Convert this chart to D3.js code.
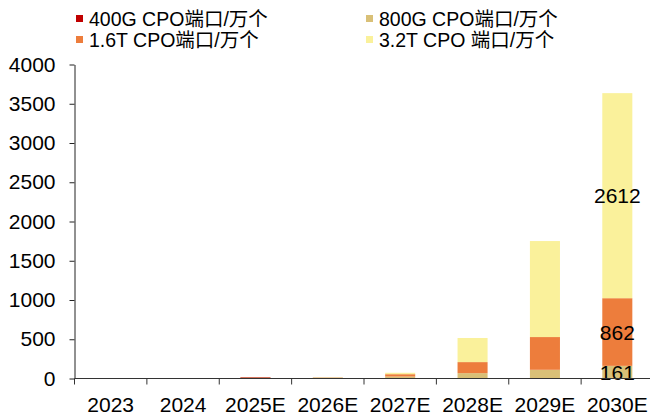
<!DOCTYPE html>
<html>
<head>
<meta charset="utf-8">
<script src="https://cdn.jsdelivr.net/npm/d3@7"></script>
<style>
  body { margin: 0; background: #fff; }
  svg { display: block; font-family: "Liberation Sans", Arial, "Noto Sans CJK SC", sans-serif; }
</style>
</head>
<body>
<div id="chart"></div>
<script>
// categories and series (万个)
const years = ["2023", "2024", "2025E", "2026E", "2027E", "2028E", "2029E", "2030E"];
const s400G = [1, 3, 15, 3, 0, 0, 0, 0];
const s800G = [0, 0, 4, 10, 25, 68, 111, 161];
const s1_6T = [0, 0, 0, 2, 30, 141, 417, 862];
const s3_2T = [0, 0, 0, 0, 18, 307, 1223, 2612];
const seriesNames = ["400G CPO端口/万个", "800G CPO端口/万个", "1.6T CPO端口/万个", "3.2T CPO 端口/万个"];
const yTicks = [0, 500, 1000, 1500, 2000, 2500, 3000, 3500, 4000];
const labelYears = ["2030E"];

const COLORS = ["#C00000", "#D9C077", "#ED7D3C", "#FAF19B"];

const width = 650, height = 417;
const margin = { top: 64.5, right: -3.5, bottom: 38.5, left: 74.5 };

const svg = d3.select("#chart").append("svg")
  .attr("width", width)
  .attr("height", height);

const x = d3.scaleBand()
  .domain(years)
  .range([margin.left, width - margin.right])
  .paddingInner(0.585)
  .paddingOuter(0.2925);

const y = d3.scaleLinear()
  .domain([0, 4000])
  .range([height - margin.bottom, margin.top]);

const keys = ["s400G", "s800G", "s1_6T", "s3_2T"];
const table = years.map((yr, i) => ({
  year: yr, s400G: s400G[i], s800G: s800G[i], s1_6T: s1_6T[i], s3_2T: s3_2T[i]
}));
const stacked = d3.stack().keys(keys)(table);

// bars
const barG = svg.append("g");
stacked.forEach((layer, k) => {
  barG.append("g")
    .attr("fill", COLORS[k])
    .selectAll("rect")
    .data(layer)
    .join("rect")
    .attr("x", d => x(d.data.year))
    .attr("width", x.bandwidth())
    .attr("y", d => y(d[1]))
    .attr("height", d => y(d[0]) - y(d[1]));
});

// value labels on the last year (skip the empty 400G)
const lblG = svg.append("g")
  .attr("font-size", 21)
  .attr("fill", "#000")
  .attr("text-anchor", "middle");
stacked.forEach((layer) => {
  layer.filter(d => labelYears.includes(d.data.year) && d[1] - d[0] > 0).forEach(d => {
    lblG.append("text")
      .attr("x", x(d.data.year) + x.bandwidth() / 2)
      .attr("y", (y(d[0]) + y(d[1])) / 2)
      .attr("dy", "0.36em")
      .text(d[1] - d[0]);
  });
});

// y axis
const yAxis = svg.append("g")
  .attr("transform", `translate(${margin.left},0)`)
  .call(d3.axisLeft(y).tickValues(yTicks).tickFormat(d3.format("d"))
    .tickSize(5).tickPadding(14).tickSizeOuter(0));
yAxis.select(".domain").attr("stroke", "#222");
yAxis.selectAll(".tick line").attr("stroke", "#222");
yAxis.selectAll("text").attr("font-size", 21).attr("fill", "#000")
  .attr("font-family", "'Liberation Sans', Arial, sans-serif");

// x axis with ticks at band boundaries
const xAxisG = svg.append("g")
  .attr("transform", `translate(0,${y(0)})`);
xAxisG.append("line")
  .attr("x1", margin.left).attr("x2", width)
  .attr("stroke", "#333");
const step = x.step();
xAxisG.selectAll("line.tk")
  .data(years)
  .join("line")
  .attr("class", "tk")
  .attr("x1", d => x(d) - step * x.paddingInner() / 2)
  .attr("x2", d => x(d) - step * x.paddingInner() / 2)
  .attr("y1", 0).attr("y2", 6)
  .attr("stroke", "#333");
xAxisG.selectAll("text")
  .data(years)
  .join("text")
  .attr("x", d => x(d) + x.bandwidth() / 2)
  .attr("y", 33)
  .attr("text-anchor", "middle")
  .attr("font-size", 21)
  .attr("fill", "#000")
  .text(d => d);

// legend
const legendPos = [
  { x: 76, y: 15 }, { x: 366, y: 15 },
  { x: 76, y: 36 }, { x: 366, y: 36 }
];
const legG = svg.append("g");
seriesNames.forEach((name, k) => {
  const p = legendPos[k];
  legG.append("rect")
    .attr("x", p.x).attr("y", p.y)
    .attr("width", 7).attr("height", 7)
    .attr("fill", COLORS[k]);
  legG.append("text")
    .attr("x", p.x + 13)
    .attr("y", p.y + 11)
    .attr("font-size", 19.5)
    .attr("fill", "#000")
    .text(name);
});
</script>
</body>
</html>
